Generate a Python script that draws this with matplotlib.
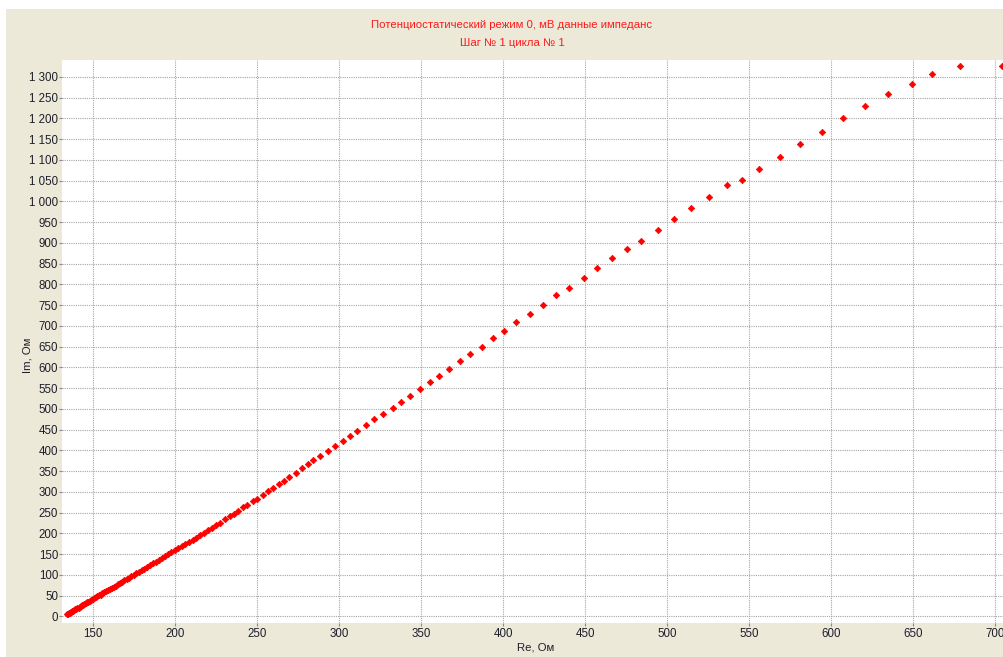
# %%
from matplotlib import pyplot as plt
from matplotlib.patches import Rectangle
from matplotlib.ticker import MultipleLocator, FuncFormatter

# %% [markdown]
# Nyquist plot of the impedance spectrum (potentiostatic mode, 0 mV)

# %% DATA, Ohm
# low-frequency end: points lie very close together
re_low = [134.0, 134.5, 135.0, 135.5, 136.1, 136.6, 137.2, 137.8, 138.4, 139.0,
          139.6, 140.3, 141.0, 141.7, 142.4, 143.1, 143.9, 144.6, 145.4, 146.2,
          147.0, 147.9, 148.8, 149.7, 150.6, 151.5, 152.5, 153.5, 154.5, 155.5,
          156.6, 157.7, 158.8, 160.0, 161.2, 162.4, 163.6, 164.9, 166.2, 167.5,
          168.9, 170.3, 171.7, 173.2, 174.7, 176.2, 177.8, 179.4, 181.0, 182.7,
          184.4, 186.2, 188.0, 189.8, 191.7, 193.6, 195.6, 197.6, 199.6, 201.7,
          203.8, 206.0, 208.2, 210.5, 212.8, 215.2, 217.6, 220.0, 222.5, 225.0]
im_low = [4.5, 6.2, 6.8, 8.6, 9.3, 11.2, 12.0, 13.9, 14.7, 16.8,
          17.6, 19.9, 20.8, 23.1, 24.0, 26.5, 27.6, 30.0, 31.1, 33.8,
          35.0, 37.8, 39.1, 42.0, 43.3, 46.2, 47.8, 50.9, 52.4, 55.6,
          57.4, 60.8, 62.6, 66.1, 68.2, 71.8, 74.0, 77.6, 80.0, 83.8,
          86.4, 90.2, 93.0, 96.4, 100.0, 104.2, 107.3, 111.8, 115.0, 119.4,
          122.8, 127.8, 131.2, 136.0, 140.0, 145.1, 149.2, 154.6, 158.7, 164.1,
          168.4, 174.3, 178.8, 185.0, 189.5, 196.0, 200.8, 207.2, 212.5, 219.0]

re_high = [227.4, 230.5, 233.1, 235.6, 238.2, 241.3, 243.7, 247.2, 249.8, 253.5,
           256.3, 259.3, 263.0, 266.3, 269.5, 273.3, 277.2, 280.6, 284.1, 288.2,
           293.1, 297.4, 302.0, 306.5, 310.9, 316.2, 321.3, 326.8, 332.7, 337.6,
           342.9, 349.2, 355.0, 360.8, 367.1, 373.3, 379.9, 386.8, 393.5, 400.6,
           407.9, 416.3, 424.0, 432.1, 439.8, 449.0, 457.1, 466.0, 475.6, 483.7,
           494.1, 504.3, 514.4, 525.4, 536.2, 545.7, 556.1, 568.9, 580.9, 594.3,
           607.1, 620.6, 634.3, 649.2, 661.2, 678.5, 704.1]
im_high = [225.5, 233.7, 241.7, 247.2, 254.4, 262.7, 268.2, 277.8, 283.4, 291.6,
           301.2, 309.2, 319.5, 326.7, 336.4, 345.3, 356.6, 366.3, 377.4, 387.0,
           398.3, 411.1, 422.4, 434.5, 445.8, 461.0, 475.4, 487.5, 502.6, 516.4,
           531.6, 547.0, 563.9, 578.3, 596.6, 614.4, 632.0, 649.6, 669.9, 688.2,
           709.1, 729.1, 750.1, 773.5, 791.8, 815.9, 839.3, 862.6, 885.8, 903.6,
           930.8, 957.3, 983.8, 1010.3, 1040.0, 1052.0, 1078.5, 1107.4, 1137.3, 1166.9,
           1199.9, 1228.8, 1258.5, 1281.8, 1305.9, 1326.7, 1326.7]

re_ohm = re_low + re_high
im_ohm = im_low + im_high

TITLE_1 = 'Потенциостатический режим 0, мВ данные импеданс'
TITLE_2 = 'Шаг № 1 цикла № 1'
XLABEL = 'Re, Ом'
YLABEL = 'Im, Ом'

# %% CONSTANTS
W_PX, H_PX = 1004, 657
PANEL = '#ECE9D8'
TXT = '#1e1e2a'
plt.rcParams['font.family'] = ['Liberation Sans', 'DejaVu Sans']
plt.rcParams['font.size'] = 8

# %%
fig = plt.figure(figsize=(W_PX / 100, H_PX / 100), dpi=100, facecolor='white')
fig.add_artist(Rectangle((6 / W_PX, 0), 1, 1 - 9 / H_PX, transform=fig.transFigure,
                         facecolor=PANEL, edgecolor='none', zorder=-10))

ax = fig.add_axes([62 / W_PX, 1 - 622.5 / H_PX,
                   (W_PX - 62) / W_PX, (622.5 - 59.5) / H_PX])
ax.set_facecolor('white')

ax.plot(re_ohm, im_ohm, linestyle='none', marker='D', markersize=3.3,
        color='#ff0000', markeredgewidth=0.5, zorder=3, clip_on=True)

ax.set_xlim(130.9, 705.3)
ax.set_ylim(-14.9, 1341.7)
ax.xaxis.set_major_locator(MultipleLocator(50))
ax.yaxis.set_major_locator(MultipleLocator(50))
ax.yaxis.set_major_formatter(FuncFormatter(lambda v, p: f'{int(round(v)):,}'.replace(',', ' ')))

ax.grid(True, color='#a6a6a6', linestyle=(0, (1, 1)), linewidth=0.8, zorder=1)
for s in ax.spines.values():
    s.set_visible(False)
ax.tick_params(axis='both', length=2.2, width=0.8, color='#8a8a8a',
               labelcolor=TXT, labelsize=8.3)
ax.tick_params(axis='y', pad=0.6)
ax.tick_params(axis='x', pad=1.6)

fig.text(512 / W_PX, 1 - 25 / H_PX, TITLE_1, color='#ff1a1a', fontsize=8.2,
         ha='center', va='center')
fig.text(512 / W_PX, 1 - 43 / H_PX, TITLE_2, color='#ff1a1a', fontsize=8.2,
         ha='center', va='center')
fig.text(536 / W_PX, 1 - 648 / H_PX, XLABEL, color=TXT, fontsize=8.2,
         ha='center', va='center')
fig.text(28 / W_PX, 1 - 355 / H_PX, YLABEL, color=TXT, fontsize=8.2,
         ha='center', va='center', rotation=90)

fig.savefig('out.png', dpi=100, facecolor=fig.get_facecolor())
